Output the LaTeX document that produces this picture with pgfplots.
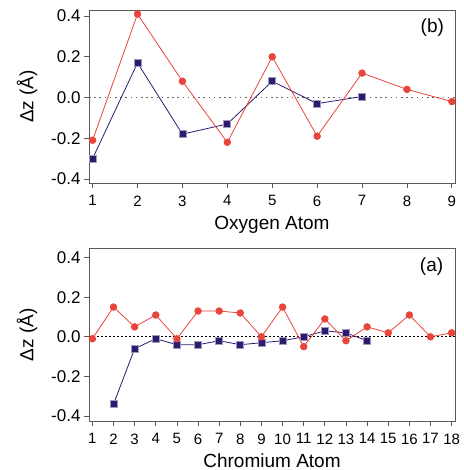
\documentclass[border=0pt]{standalone}
\usepackage{fontspec}
\setmainfont{Liberation Sans}
\usepackage{pgfplots}
\pgfplotsset{compat=1.18}

\definecolor{redpt}{HTML}{E8453C}
\definecolor{navy}{HTML}{2D1B6E}
\definecolor{framegray}{HTML}{5A5A5A}

\pgfplotsset{
  panel/.style={
    scale only axis,
    width=366pt,
    axis line style={framegray, line width=0.8pt},
    tick style={framegray, line width=0.8pt},
    major tick length=5pt,
    tick align=outside,
    tick pos=left,
    xtick distance=1,
    ytick={-0.4,-0.2,0,0.2,0.4},
    yticklabels={-0.4,-0.2,0.0,0.2,0.4},
    /pgf/number format/assume math mode=true,
    y tick label style={font=\fontsize{17}{20}\selectfont},
    x tick label style={font=\fontsize{15}{18}\selectfont, yshift=-4pt},
    label style={font=\fontsize{19}{22}\selectfont},
    ylabel={Δz (Å)},
    y label style={at={(axis description cs:-0.1694,0.5)}, anchor=center},
    x label style={at={(axis description cs:0.5,0)}, yshift=-42pt, anchor=center},
  },
  redline/.style={color=redpt, line width=0.8pt, mark=*, mark size=3.3pt,
    mark options={fill=redpt, draw=redpt}},
  blueline/.style={color=navy, line width=0.8pt, mark=square*, mark size=3.5pt,
    mark options={fill=navy, draw=navy!45}},
}

\begin{document}
\begin{tikzpicture}
\useasboundingbox (-89pt,-49pt) rectangle (374pt,421pt);

% (b) oxygen atoms
\begin{axis}[panel,
  at={(0pt,238pt)}, anchor=south west,
  height=173pt,
  xmin=0.92, xmax=9.07,
  ymin=-0.42, ymax=0.43,
  xlabel={Oxygen Atom},
]
\addplot[forget plot, gray!80!black, line width=1.6pt, dash pattern=on 1.6pt off 3.6pt]
  coordinates {(0.92,0) (9.07,0)};
\addplot[blueline] coordinates {
  (1,-0.30) (2,0.17) (3,-0.18) (4,-0.13) (5,0.08) (6,-0.03) (7,0.005)
};
\addplot[redline] coordinates {
  (1,-0.21) (2,0.41) (3,0.08) (4,-0.22) (5,0.20) (6,-0.19) (7,0.12) (8,0.04) (9,-0.02)
};
\node[font=\fontsize{19}{22}\selectfont] at (rel axis cs:0.938,0.896) {(b)};
\end{axis}

% (a) chromium atoms
\begin{axis}[panel,
  at={(0pt,0pt)}, anchor=south west,
  height=172.4pt,
  xmin=0.84, xmax=18.16,
  ymin=-0.425, ymax=0.445,
  xlabel={Chromium Atom},
  x label style={yshift=2.5pt},
]
\addplot[forget plot, black, line width=0.8pt, dash pattern=on 2pt off 2pt]
  coordinates {(0.84,0) (18.16,0)};
\addplot[blueline] coordinates {
  (2,-0.34) (3,-0.06) (4,-0.01) (5,-0.04) (6,-0.04) (7,-0.02) (8,-0.04)
  (9,-0.03) (10,-0.02) (11,0.00) (12,0.03) (13,0.02) (14,-0.02)
};
\addplot[redline] coordinates {
  (1,-0.01) (2,0.15) (3,0.05) (4,0.11) (5,-0.01) (6,0.13) (7,0.13) (8,0.12)
  (9,0.00) (10,0.15) (11,-0.05) (12,0.09) (13,-0.02) (14,0.05) (15,0.02)
  (16,0.11) (17,0.00) (18,0.02)
};
\node[font=\fontsize{19}{22}\selectfont] at (rel axis cs:0.936,0.895) {(a)};
\end{axis}
\end{tikzpicture}
\end{document}
